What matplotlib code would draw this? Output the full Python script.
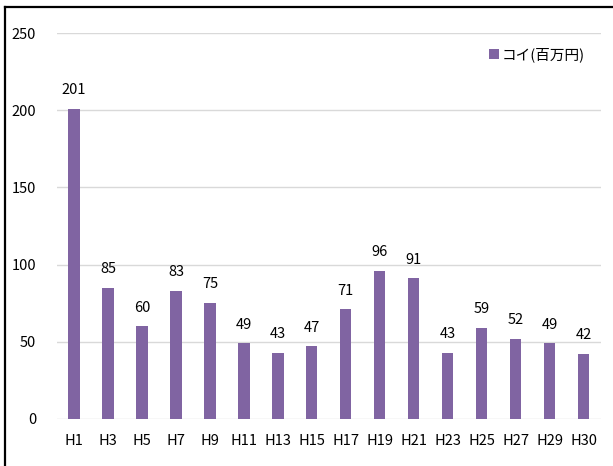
import matplotlib
matplotlib.use('Agg')
import matplotlib.pyplot as plt
from matplotlib.lines import Line2D

plt.rcParams['font.family'] = ['Noto Sans CJK JP', 'DejaVu Sans']

years = ['H1', 'H3', 'H5', 'H7', 'H9', 'H11', 'H13', 'H15',
         'H17', 'H19', 'H21', 'H23', 'H25', 'H27', 'H29', 'H30']
values = [201, 85, 60, 83, 75, 49, 43, 47, 71, 96, 91, 43, 59, 52, 49, 42]
series_name = 'コイ(百万円)'
bar_color = '#8064A2'

fig = plt.figure(figsize=(6.13, 4.66), dpi=100)
ax = fig.add_axes([0.093, 0.101, 0.887, 0.828])

x = range(len(years))
bars = ax.bar(x, values, width=0.33, color=bar_color, label=series_name, zorder=3)

for xi, v in zip(x, values):
    ax.annotate(str(v), (xi, v), xytext=(0, 8.5), textcoords='offset points',
                ha='center', va='bottom', fontsize=10.5, color='black')

ax.set_xlim(-0.5, len(years) - 0.5)
ax.set_ylim(0, 250)
ax.set_yticks(range(0, 251, 50))
ax.set_xticks(list(x))
ax.set_xticklabels(years)
ax.yaxis.grid(True, color='#d9d9d9', linewidth=1, zorder=0)
ax.tick_params(axis='both', length=0, labelsize=10.5, colors='black')
ax.tick_params(axis='y', pad=15)
ax.tick_params(axis='x', pad=11)
for s in ax.spines.values():
    s.set_visible(False)

leg = ax.legend(loc='upper right', bbox_to_anchor=(0.995, 0.998), frameon=False,
                fontsize=10.5, handlelength=0.7, handleheight=0.7, handletextpad=0.2)

# outer frame (left and top edges)
fig.add_artist(Line2D([5 / 613, 5 / 613], [0, 1 - 7 / 466], color='black', linewidth=1.6,
                      transform=fig.transFigure))
fig.add_artist(Line2D([5 / 613, 1], [1 - 7 / 466, 1 - 7 / 466], color='black', linewidth=1.6,
                      transform=fig.transFigure))

fig.savefig('out.png', dpi=100)
